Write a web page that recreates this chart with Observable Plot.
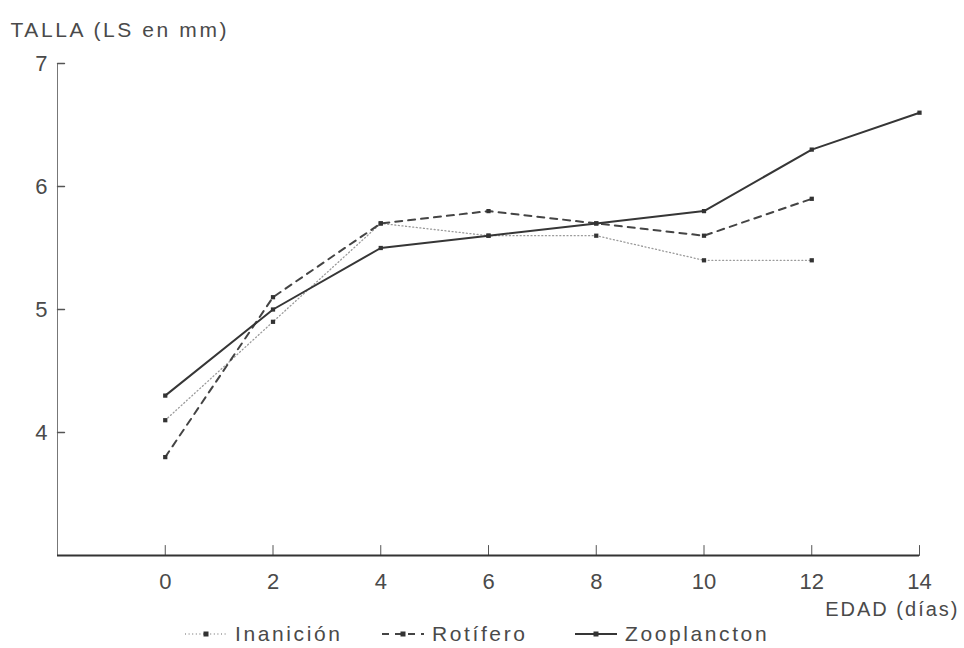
<!DOCTYPE html>
<html><head><meta charset="utf-8">
<script src="https://cdn.jsdelivr.net/npm/d3@7"></script>
<script src="https://cdn.jsdelivr.net/npm/@observablehq/plot@0.6"></script>
<style>
body{margin:0;background:#fff;font-family:"Liberation Sans",Arial,sans-serif;color:#4a4a4a;}
#wrap{position:relative;width:964px;height:648px;overflow:hidden;}
#legend{position:absolute;left:0;top:620px;width:964px;height:28px;}
.item{position:absolute;top:0;height:28px;display:flex;align-items:center;font-size:21px;letter-spacing:2.6px;color:#4a4a4a;}
.item svg{margin-right:8px;}
</style></head><body><div id="wrap"><div id="chart"></div><div id="legend"></div></div>
<script>
const days = [0, 2, 4, 6, 8, 10, 12, 14];
const inanicion = [4.1, 4.9, 5.7, 5.6, 5.6, 5.4, 5.4];
const rotifero = [3.8, 5.1, 5.7, 5.8, 5.7, 5.6, 5.9];
const zooplancton = [4.3, 5.0, 5.5, 5.6, 5.7, 5.8, 6.3, 6.6];
const xTicks = [0, 2, 4, 6, 8, 10, 12, 14];
const yTicks = [4, 5, 6, 7];
const seriesNames = ["Inanición", "Rotífero", "Zooplancton"];
const seriesValues = [inanicion, rotifero, zooplancton];
const xLabel = "EDAD (días)";
const yLabel = "TALLA (LS en mm)";

const styles = {
  "Inanición": {stroke: "#9a9a9a", strokeWidth: 1.3, dash: "1,2.6"},
  "Rotífero": {stroke: "#444", strokeWidth: 2, dash: "7,6"},
  "Zooplancton": {stroke: "#363636", strokeWidth: 2, dash: null}
};

const rows = seriesNames.flatMap((s, i) => seriesValues[i].map((v, j) => ({serie: s, dia: days[j], talla: v})));

const tickShape = {draw(context, l) { context.moveTo(0, 0); context.lineTo(0, -l); }};

const lineMarks = seriesNames.map(s => Plot.line(rows.filter(r => r.serie === s), {
  x: "dia", y: "talla", stroke: styles[s].stroke, strokeWidth: styles[s].strokeWidth,
  strokeDasharray: styles[s].dash
}));

const chart = Plot.plot({
  width: 964, height: 615,
  marginTop: 63, marginLeft: 57, marginRight: 45, marginBottom: 60,
  x: {domain: [-2, 14]},
  y: {domain: [3, 7]},
  style: {fontFamily: "'Liberation Sans', Arial, sans-serif", fontSize: "22px", color: "#4a4a4a", background: "white", overflow: "visible"},
  marks: [
    Plot.ruleX([-2], {y1: 3, y2: 7, stroke: "#777", strokeWidth: 1}),
    Plot.vector(xTicks, {x: d => d, y: 3, length: 10, rotate: 0, anchor: "start", shape: tickShape, stroke: "#555", strokeWidth: 1}),
    Plot.vector(yTicks, {x: -2, y: d => d, length: 7, rotate: 90, anchor: "start", shape: tickShape, stroke: "#555", strokeWidth: 1.4}),
    Plot.ruleY([3], {x1: -2, x2: 14, stroke: "#333", strokeWidth: 2}),
    Plot.axisX(xTicks, {tickSize: 0, tickPadding: 18, label: null, fill: "#4a4a4a", fontSize: 22, tickFormat: d => String(d)}),
    Plot.axisY(yTicks, {tickSize: 0, tickPadding: 10, label: null, fill: "#4a4a4a", fontSize: 22, tickFormat: d => String(d)}),
    ...lineMarks,
    Plot.dot(rows, {x: "dia", y: "talla", symbol: "square", r: 2.4, fill: "#333", stroke: null}),
    Plot.text([xLabel], {text: d => d, frameAnchor: "bottom-right", dx: 40, dy: 60, textAnchor: "end", fontSize: 20, fill: "#4a4a4a"}),
    Plot.text([yLabel], {text: d => d, frameAnchor: "top-left", dx: -47, dy: -41, textAnchor: "start", fontSize: 21, fill: "#4a4a4a"})
  ]
});
document.getElementById("chart").appendChild(chart);
chart.querySelectorAll("text").forEach(t => { if (t.textContent === xLabel) t.style.letterSpacing = "2px"; if (t.textContent === yLabel) t.style.letterSpacing = "2.6px"; });

// Legend
const legend = document.getElementById("legend");
const lefts = [185, 382, 575];
seriesNames.forEach((s, i) => {
  const st = styles[s];
  const div = document.createElement("div");
  div.className = "item";
  div.style.left = lefts[i] + "px";
  div.innerHTML = `<svg width="42" height="28"><line x1="0" y1="14" x2="42" y2="14" stroke="${st.stroke}" stroke-width="${st.strokeWidth}" ${st.dash ? `stroke-dasharray="${st.dash}"` : ""}/><rect x="18.5" y="11.5" width="5" height="5" fill="#333"/></svg><span>${s}</span>`;
  legend.appendChild(div);
});
</script></body></html>
